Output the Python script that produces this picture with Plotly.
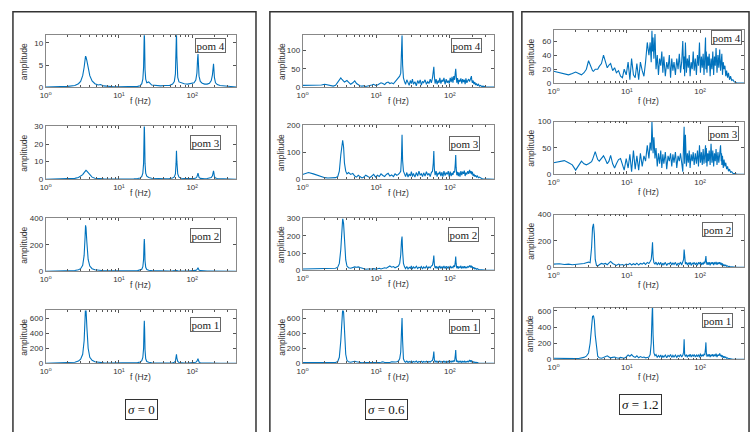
import plotly.graph_objects as go

W, H = 753, 432
BLUE = "#0072BD"

# ---------------- frequency grids (Hz) ----------------
F1 = [
    1.0, 1.5, 2.0, 2.5, 2.8, 3.0, 3.2, 3.35, 3.45, 3.5,
    3.55, 3.65, 3.8, 4.0, 4.3, 4.7, 5.2, 5.6, 6.2, 7.0,
    8.5, 10, 12, 14, 16, 18, 19.5, 20.5, 21.2, 21.7,
    22.0, 22.2, 22.4, 22.7, 23.2, 24, 25.5, 28, 32, 37,
    43, 49, 54, 57, 59, 60.2, 61, 61.8, 63.5, 66,
    71, 78, 87, 97, 106, 112, 116, 118.5, 120, 121.5,
    124, 129, 137, 148, 160, 172, 182, 189, 193, 195.5,
    197.5, 201, 208, 220, 240, 270, 310, 340, 370, 400,
]

F2 = [
    1.0, 1.2, 1.4, 1.6, 1.8, 2.0, 2.2, 2.4, 2.6, 2.8,
    3.0, 3.15, 3.3, 3.4, 3.5, 3.6, 3.7, 3.85, 4.0, 4.2,
    4.5, 4.8, 5.1, 5.4, 5.7, 6.0, 6.4, 6.8, 7.2, 7.7,
    8.2, 8.7, 9.2, 9.8, 10.4, 11.0, 11.6, 12.3, 13.0, 13.7,
    14.5, 15.3, 16.2, 17.1, 18.0, 19.0, 20.0, 20.8, 21.5, 22.0,
    22.4, 22.8, 23.4, 24.2, 25.0, 26, 27, 28, 29, 30,
    31, 32, 33.5, 35, 36.5, 38, 39.5, 41, 42.5, 44,
    46, 48, 50, 52, 54, 56, 58, 59.5, 60.5, 61.5,
    63, 65, 67, 69, 71, 73, 75.5, 78, 80.5, 83,
    86, 89, 92, 95, 98, 101, 104, 107, 110, 113,
    116, 118.5, 120, 121.5, 124, 127, 130, 133, 137, 141,
    145, 149, 153, 157, 161, 165, 170, 175, 180, 185,
    190, 194, 196, 198, 202, 207, 212, 218, 224, 230,
    237, 244, 252, 260, 270, 280, 292, 305, 320, 400,
]

# ---------------- sigma = 0 (grid F1) ----------------
S0_POM4 = [
    0.05, 0.1, 0.2, 0.4, 0.8, 1.3, 2.6, 4.5, 6.3, 7.0,
    6.8, 6.0, 4.2, 2.6, 1.4, 0.8, 0.5, 0.6, 0.3, 0.2,
    0.1, 0.1, 0.1, 0.1, 0.15, 0.2, 0.35, 0.8, 1.8, 4.5,
    9.5, 12.5, 10, 4, 1.8, 1.0, 1.2, 0.5, 0.4, 0.3,
    0.4, 0.4, 0.7, 1.3, 3, 8, 12.5, 7, 2.2, 1.2,
    1.0, 0.8, 0.7, 0.8, 1.0, 1.6, 3.2, 6.5, 7.5, 5.5,
    2.5, 1.3, 0.9, 0.7, 0.7, 0.9, 1.5, 2.8, 4.5, 5.3,
    4.2, 2.2, 1.0, 0.6, 0.4, 0.3, 0.2, 0.15, 0.1, 0.05,
]
S0_POM3 = [
    0.05, 0.1, 0.2, 0.5, 1.0, 1.6, 2.6, 3.8, 4.8, 5.2,
    5.1, 4.6, 3.6, 2.4, 1.2, 0.6, 0.35, 0.3, 0.2, 0.15,
    0.1, 0.1, 0.1, 0.15, 0.2, 0.4, 0.7, 1.6, 3.5, 9,
    22, 32, 24, 9, 3.5, 1.8, 1.0, 0.6, 0.4, 0.3,
    0.3, 0.4, 0.7, 1.3, 3, 9, 16.2, 10, 3, 1.2,
    0.6, 0.4, 0.3, 0.3, 0.4, 0.7, 1.4, 2.8, 3.5, 2.6,
    1.0, 0.5, 0.3, 0.3, 0.4, 0.6, 1.0, 2.0, 3.8, 4.8,
    3.8, 1.6, 0.7, 0.4, 0.3, 0.2, 0.15, 0.1, 0.1, 0.05,
]
S0_POM2 = [
    1, 2, 3, 6, 12, 20, 45, 120, 260, 348,
    330, 220, 90, 40, 20, 12, 8, 6, 4, 3,
    2, 2, 2, 2, 3, 5, 8, 15, 35, 90,
    200, 244, 200, 80, 30, 14, 8, 5, 3, 2,
    2, 2, 3, 4, 6, 8, 9, 6, 4, 3,
    2, 2, 2, 3, 4, 7, 12, 22, 27, 20,
    9, 5, 3, 2, 2, 2, 2, 3, 4, 4,
    3, 2, 1, 1, 1, 1, 0.5, 0.5, 0.3, 0.2,
]
S0_POM1 = [
    2, 4, 8, 15, 30, 55, 120, 300, 600, 760,
    720, 480, 200, 80, 40, 22, 14, 10, 7, 5,
    4, 3, 3, 4, 6, 10, 18, 35, 80, 200,
    450, 563, 460, 180, 60, 25, 14, 8, 5, 4,
    4, 5, 8, 14, 30, 80, 119, 70, 25, 12,
    7, 5, 4, 5, 7, 14, 28, 55, 63, 45,
    18, 9, 5, 4, 3, 3, 4, 5, 6, 6,
    5, 4, 3, 2, 2, 1, 1, 0.5, 0.5, 0.3,
]

# ---------------- sigma = 0.6 (grid F2) ----------------
S06_POM4 = [
    5, 5, 4, 4, 6, 8, 6, 4, 3, 5,
    14, 22, 25, 22, 18, 15, 14, 16, 18, 14,
    8, 12, 17, 10, 6, 4, 3, 4, 2, 3,
    4, 6, 8, 5, 6, 9, 12, 10, 7, 12,
    14, 10, 12, 9, 15, 18, 25, 30, 38, 90,
    140, 60, 25, 15, 8, 20, 12, 5, 18, 10,
    22, 8, 15, 4, 18, 10, 20, 6, 16, 12,
    20, 8, 15, 10, 22, 12, 25, 40, 55, 30,
    10, 22, 8, 18, 12, 25, 10, 20, 15, 25,
    8, 22, 12, 18, 10, 25, 14, 28, 12, 30,
    20, 40, 50, 35, 12, 25, 8, 20, 15, 24,
    10, 22, 14, 20, 8, 24, 12, 18, 22, 15,
    24, 28, 30, 20, 12, 18, 8, 14, 6, 10,
    4, 8, 3, 5, 2, 3, 1, 1, 0.5, 0.3,
]
S06_POM3 = [
    18, 25, 20, 14, 10, 6, 5, 5, 5, 6,
    10, 30, 90, 135, 145, 120, 60, 30, 20, 25,
    18, 22, 12, 8, 15, 10, 5, 8, 15, 10,
    6, 12, 18, 8, 15, 10, 20, 14, 10, 18,
    22, 12, 16, 10, 20, 15, 18, 24, 30, 80,
    165, 70, 30, 20, 10, 25, 8, 20, 12, 28,
    10, 22, 8, 25, 12, 30, 15, 20, 10, 24,
    12, 28, 15, 22, 10, 25, 30, 60, 105, 40,
    15, 30, 10, 24, 18, 28, 12, 26, 10, 30,
    14, 25, 18, 30, 10, 28, 12, 24, 16, 30,
    25, 60, 90, 45, 15, 28, 12, 26, 10, 30,
    15, 28, 20, 32, 12, 25, 18, 30, 20, 35,
    22, 30, 25, 18, 28, 12, 20, 10, 15, 8,
    12, 6, 8, 4, 3, 2, 2, 1, 0.5, 0.3,
]
S06_POM2 = [
    8, 8, 8, 10, 11, 12, 10, 8, 10, 12,
    18, 40, 120, 250, 300, 270, 150, 60, 25, 15,
    12, 18, 20, 18, 20, 16, 12, 8, 6, 8,
    6, 8, 10, 7, 9, 12, 8, 10, 15, 12,
    20, 25, 18, 22, 15, 20, 25, 40, 90, 170,
    195, 110, 40, 20, 10, 22, 8, 18, 12, 25,
    8, 20, 12, 24, 10, 18, 14, 22, 8, 20,
    12, 24, 10, 20, 14, 25, 30, 55, 86, 35,
    12, 24, 10, 20, 15, 25, 10, 22, 12, 26,
    10, 24, 14, 22, 8, 26, 12, 20, 15, 28,
    20, 50, 80, 40, 12, 24, 10, 22, 14, 26,
    10, 22, 15, 24, 12, 20, 14, 22, 18, 28,
    20, 26, 24, 15, 22, 10, 18, 8, 12, 6,
    10, 5, 6, 3, 3, 2, 1, 1, 0.5, 0.3,
]
S06_POM1 = [
    10, 10, 8, 8, 10, 10, 8, 8, 10, 12,
    25, 80, 300, 620, 720, 680, 400, 120, 40, 20,
    15, 20, 28, 20, 15, 10, 8, 10, 8, 10,
    8, 10, 12, 10, 8, 12, 15, 20, 12, 10,
    15, 12, 20, 15, 18, 22, 30, 60, 150, 420,
    600, 300, 60, 25, 15, 30, 12, 25, 15, 30,
    12, 25, 15, 30, 10, 25, 18, 28, 12, 25,
    15, 28, 12, 25, 18, 30, 40, 90, 157, 50,
    18, 30, 12, 28, 20, 30, 14, 26, 15, 30,
    12, 28, 16, 30, 10, 28, 15, 32, 20, 35,
    30, 110, 177, 70, 20, 30, 12, 28, 15, 30,
    12, 28, 18, 30, 14, 25, 18, 28, 20, 43,
    25, 40, 35, 20, 28, 12, 22, 10, 15, 8,
    10, 5, 6, 3, 3, 2, 1, 1, 0.5, 0.3,
]

# ---------------- sigma = 1.2 (grid F2) ----------------
S12_POM4 = [
    17, 15, 13, 12, 14, 16, 14, 12, 15, 20,
    32, 26, 20, 18, 17, 19, 20, 20, 20, 24,
    28, 40, 30, 22, 26, 28, 18, 22, 15, 18,
    10, 8, 20, 12, 30, 5, 35, 12, 8, 28,
    5, 30, 18, 10, 30, 58, 40, 58, 30, 75,
    45, 65, 35, 70, 20, 40, 12, 35, 25, 45,
    15, 38, 10, 30, 20, 40, 8, 35, 18, 30,
    12, 35, 20, 42, 15, 30, 60, 20, 38, 10,
    58, 15, 35, 22, 40, 10, 30, 20, 45, 18,
    35, 12, 40, 25, 58, 15, 38, 22, 42, 12,
    40, 65, 20, 45, 15, 38, 25, 42, 10, 35,
    20, 45, 12, 38, 25, 50, 15, 40, 22, 48,
    18, 35, 25, 42, 12, 30, 20, 25, 10, 18,
    8, 15, 5, 10, 4, 5, 2, 1, 0.5, 0.2,
]
S12_POM3 = [
    22, 24, 26, 22, 18, 8, 18, 25, 20, 18,
    20, 22, 24, 28, 35, 40, 43, 35, 28, 25,
    30, 35, 28, 20, 25, 36, 20, 12, 20, 28,
    30, 18, 8, 30, 12, 38, 5, 45, 10, 35,
    8, 40, 15, 35, 25, 55, 30, 60, 45, 100,
    55, 40, 70, 30, 50, 15, 40, 20, 45, 12,
    38, 20, 42, 10, 35, 25, 40, 15, 38, 22,
    42, 12, 35, 25, 40, 15, 5, 60, 90, 20,
    75, 15, 40, 22, 45, 12, 38, 25, 42, 18,
    40, 20, 45, 15, 55, 22, 42, 18, 48, 20,
    45, 55, 22, 50, 15, 40, 25, 45, 18, 58,
    22, 45, 15, 40, 25, 48, 18, 42, 22, 50,
    55, 25, 40, 18, 35, 12, 28, 15, 22, 10,
    15, 6, 10, 4, 5, 2, 2, 1, 0.5, 0.2,
]
S12_POM2 = [
    25, 28, 22, 25, 20, 22, 25, 28, 30, 35,
    40, 35, 150, 300, 330, 250, 60, 15, 10, 20,
    30, 25, 30, 20, 35, 45, 30, 20, 15, 25,
    18, 22, 15, 25, 20, 30, 18, 28, 20, 32,
    18, 30, 25, 35, 22, 38, 30, 45, 60, 120,
    190, 80, 35, 25, 40, 18, 35, 22, 38, 15,
    32, 20, 38, 15, 30, 25, 40, 18, 35, 22,
    38, 15, 30, 22, 40, 18, 35, 60, 135, 40,
    25, 38, 18, 35, 22, 40, 15, 32, 25, 38,
    20, 35, 15, 38, 25, 40, 18, 35, 22, 42,
    30, 60, 86, 45, 20, 38, 22, 40, 15, 38,
    25, 40, 18, 35, 28, 42, 20, 38, 25, 40,
    22, 35, 28, 15, 30, 10, 22, 12, 18, 8,
    12, 5, 8, 3, 4, 2, 2, 1, 0.5, 0.2,
]
S12_POM1 = [
    15, 12, 10, 10, 8, 10, 12, 15, 25, 40,
    80, 200, 420, 530, 540, 480, 300, 120, 40, 20,
    15, 25, 35, 45, 30, 20, 25, 30, 20, 15,
    25, 20, 15, 30, 55, 40, 60, 35, 25, 45,
    20, 35, 25, 30, 20, 25, 30, 60, 200, 500,
    680, 300, 80, 45, 60, 25, 50, 30, 55, 20,
    45, 30, 55, 20, 50, 35, 60, 25, 50, 30,
    55, 25, 50, 35, 60, 30, 50, 90, 250, 60,
    35, 60, 25, 55, 40, 65, 30, 55, 40, 60,
    30, 55, 35, 60, 25, 70, 35, 55, 40, 65,
    60, 140, 210, 90, 35, 60, 40, 65, 30, 60,
    40, 65, 35, 55, 45, 70, 30, 60, 45, 75,
    40, 55, 45, 30, 50, 20, 40, 22, 30, 15,
    20, 8, 12, 5, 6, 3, 2, 1, 0.5, 0.3,
]

POM_LABELS = ["pom 4", "pom 3", "pom 2", "pom 1"]
SIGMA_LABELS = ["<i>σ</i> = 0", "<i>σ</i> = 0.6", "<i>σ</i> = 1.2"]
SERIES = [
    [(F1, S0_POM4), (F1, S0_POM3), (F1, S0_POM2), (F1, S0_POM1)],
    [(F2, S06_POM4), (F2, S06_POM3), (F2, S06_POM2), (F2, S06_POM1)],
    [(F2, S12_POM4), (F2, S12_POM3), (F2, S12_POM2), (F2, S12_POM1)],
]
YMAX = [[11.7, 30, 400, 700], [140, 200, 300, 700], [75, 100, 400, 640]]
YDTICK = [[5, 10, 200, 200], [50, 100, 100, 200], [20, 50, 200, 200]]
XT_MAJOR = [1, 10, 100]
XT_MAJOR_TEXT = ["10⁰", "10¹", "10²"]
XT_MINOR = [2, 3, 4, 5, 6, 7, 8, 9, 20, 30, 40, 50, 60, 70, 80, 90, 200, 300, 400]

# ---------------- layout geometry (pixels) ----------------
COL_X = [(40, 232), (299, 492), (552, 744)]
ROW_Y = [
    [(32, 85), (125, 179), (219, 273), (313, 367)],
    [(32, 85), (124, 179), (219, 272), (313, 367)],
    [(27, 81), (120, 174), (215, 269), (310, 363)],
]
POM_XY = [
    [(206, 42), (201, 141), (201, 236), (201.5, 327.5)],
    [(464.5, 42), (462, 142), (461, 235), (462, 329)],
    [(726.5, 34), (723, 132), (717, 230.5), (717, 323.5)],
]
YLABEL_OFF = [22, 21, 23]
XLABEL_OFF = [14, 14, 18]
SIGMA_XY = [(136.5, 414), (383.5, 414), (640, 409.5)]
BOXES = [(7, 252, 8), (266, 511, 8), (520, 749, 8)]


def px(x):
    return x / W


def py(y):
    return 1 - y / H


fig = go.Figure()
annotations = []
shapes = []
tick_font = dict(family="Liberation Sans, DejaVu Sans, Arial, sans-serif", size=8, color="#333")
label_font = dict(family="Liberation Sans, Arial, sans-serif", size=8.5, color="#333")
layout_axes = {}

k = 0
for c in range(3):
    x0, x1 = COL_X[c]
    for r in range(4):
        k += 1
        y0, y1 = ROW_Y[c][r]
        f, a = SERIES[c][r]
        xa = "x" if k == 1 else "x%d" % k
        ya = "y" if k == 1 else "y%d" % k
        fig.add_trace(go.Scatter(
            x=f, y=a, mode="lines", xaxis=xa, yaxis=ya,
            line=dict(color=BLUE, width=1.1), showlegend=False, hoverinfo="skip"))
        xname = "xaxis" if k == 1 else "xaxis%d" % k
        yname = "yaxis" if k == 1 else "yaxis%d" % k
        layout_axes[xname] = dict(
            domain=[px(x0), px(x1)], anchor=ya, type="log", range=[0, 2.6],
            tickmode="array", tickvals=XT_MAJOR, ticktext=XT_MAJOR_TEXT,
            ticks="inside", ticklen=3, tickwidth=0.8, tickcolor="#555",
            minor=dict(tickmode="array", tickvals=XT_MINOR, ticks="inside",
                       ticklen=2, tickwidth=0.8, tickcolor="#555", showgrid=False),
            showline=True, linecolor="#888", linewidth=0.8, mirror="allticks",
            showgrid=False, zeroline=False, tickfont=tick_font, fixedrange=True)
        layout_axes[yname] = dict(
            domain=[py(y1), py(y0)], anchor=xa, range=[0, YMAX[c][r]],
            tick0=0, dtick=YDTICK[c][r],
            ticks="inside", ticklen=3, tickwidth=0.8, tickcolor="#555",
            showline=True, linecolor="#888", linewidth=0.8, mirror="allticks",
            showgrid=False, zeroline=False, tickfont=tick_font, fixedrange=True)
        annotations.append(dict(
            text="amplitude", xref="paper", yref="paper",
            x=px(x0 - YLABEL_OFF[c]), y=py((y0 + y1) / 2), textangle=-90,
            showarrow=False, font=label_font, xanchor="center", yanchor="middle"))
        annotations.append(dict(
            text="f (Hz)", xref="paper", yref="paper",
            x=px((x0 + x1) / 2), y=py(y1 + XLABEL_OFF[c]),
            showarrow=False, font=label_font, xanchor="center", yanchor="middle"))
        pxy = POM_XY[c][r]
        annotations.append(dict(
            text=POM_LABELS[r], xref="paper", yref="paper",
            x=px(pxy[0]), y=py(pxy[1]), showarrow=False,
            font=dict(family="Liberation Serif, Times New Roman, serif", size=11, color="#222"),
            bordercolor="#666", borderwidth=1, borderpad=0.5, bgcolor="white",
            xanchor="center", yanchor="middle"))
    sx, sy = SIGMA_XY[c]
    annotations.append(dict(
        text=SIGMA_LABELS[c], xref="paper", yref="paper",
        x=px(sx), y=py(sy), showarrow=False,
        font=dict(family="Liberation Serif, Times New Roman, serif", size=13, color="#111"),
        bordercolor="#333", borderwidth=1, borderpad=2, bgcolor="white",
        xanchor="center", yanchor="middle"))
    bx0, bx1, by0 = BOXES[c]
    shapes.append(dict(type="rect", xref="paper", yref="paper",
                       x0=px(bx0), x1=px(bx1), y0=-0.05, y1=py(by0),
                       line=dict(color="#333", width=1.5)))

fig.update_layout(
    width=W, height=H, margin=dict(l=0, r=0, t=0, b=0),
    paper_bgcolor="white", plot_bgcolor="white",
    annotations=annotations, shapes=shapes, showlegend=False,
    **layout_axes)

fig.write_html("out.html", config={"displayModeBar": False},
               post_script="document.body.style.margin='0';document.body.style.overflow='hidden';")
